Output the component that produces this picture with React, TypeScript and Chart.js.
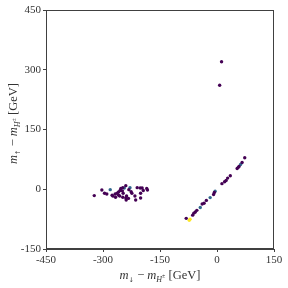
import React, { useEffect, useRef } from "react";
import { Chart, registerables } from "chart.js";

Chart.register(...registerables);

// x: m_down - m_H±, y: m_up - m_H±  (GeV)
const purpleX = [
  -323, -303, -296, -290, -276, -268, -259, -255, -253, -248, -240, -249, -247, -238, -239, -233,
  -226, -224, -216, -214, -210, -201, -201, -197, -194, -183, -259, -263, -232, -274, -267, -256,
  -248, -240, -202, -185,
  12, 7, -81, -64, -57, -53, -39, -34, -28, -7, -9, 13, 20, 24, 28, 35, 53, 58, 56, 66, 73, -61,
];
const purpleY = [
  -16, -2, -10, -12, -15, -12, -15, -3, 2, 4, 9, -4, -10, -17, -27, -23,
  -6, -10, -17, -27, 4, -10, -22, 3, -3, -2, -7, -10, -1, -17, -20, -17,
  -20, -22, 3, 2,
  320, 261, -73, -65, -57, -53, -37, -35, -28, -8, -13, 14, 19, 22, 28, 34, 52, 57, 55, 67, 79, -60,
];
const tealX = [-281, -244, -229, -44, -18, -5, 62];
const tealY = [-1, 3, 4, -46, -21, -5, 62];
const yellowX = [-71, -73];
const yellowY = [-75, -78];

const xTicks = [-450, -300, -150, 0, 150];
const yTicks = [-150, 0, 150, 300, 450];

const FONT = "'Liberation Serif', 'DejaVu Serif', serif";
const SYMFONT = "'DejaVu Sans', sans-serif";
const AXIS = "#404040";
const TEXT = "#333333";

type Part = { t: string; it?: boolean; s: number; dy?: number; sym?: boolean };

function fontOf(p: Part) {
  return `${p.it ? "italic " : ""}${p.s}px ${p.sym ? SYMFONT : FONT}`;
}

function drawParts(ctx: CanvasRenderingContext2D, parts: Part[], cx: number, cy: number, rot: number) {
  ctx.save();
  ctx.translate(cx, cy);
  ctx.rotate(rot);
  let total = 0;
  const widths: number[] = [];
  for (const p of parts) {
    ctx.font = fontOf(p);
    const w = ctx.measureText(p.t).width;
    widths.push(w);
    total += w;
  }
  let x = -total / 2;
  ctx.fillStyle = TEXT;
  ctx.textBaseline = "alphabetic";
  ctx.textAlign = "left";
  parts.forEach((p, i) => {
    ctx.font = fontOf(p);
    ctx.fillText(p.t, x, 4 + (p.dy || 0));
    x += widths[i];
  });
  ctx.restore();
}

const labelsPlugin = {
  id: "mathLabels",
  afterDraw(chart: any) {
    const { ctx, chartArea } = chart;
    const { left, right, top, bottom } = chartArea;
    ctx.save();
    ctx.strokeStyle = AXIS;
    ctx.lineWidth = 1;
    ctx.strokeRect(left + 0.5, top + 0.5, right - left - 1, bottom - top - 1);
    ctx.restore();
    const mk = (arrow: string): Part[] => [
      { t: "m", it: true, s: 12.5 },
      { t: arrow, s: 6.5, dy: 2.5, sym: true },
      { t: " − ", s: 12.5 },
      { t: "m", it: true, s: 12.5 },
      { t: "H", it: true, s: 8, dy: 2.5 },
      { t: "±", s: 6, dy: -1 },
      { t: " [GeV]", s: 12.5 },
    ];
    drawParts(ctx, mk("↓"), (left + right) / 2, 275, 0);
    drawParts(ctx, mk("↑"), 13, (top + bottom) / 2 - 6, -Math.PI / 2);
  },
};

export default function App() {
  const ref = useRef<HTMLCanvasElement>(null);
  useEffect(() => {
    if (!ref.current) return;
    const mkData = (xs: number[], ys: number[]) => xs.map((x, i) => ({ x, y: ys[i] }));
    const chart = new Chart(ref.current, {
      type: "scatter",
      data: {
        datasets: [
          { data: mkData(purpleX, purpleY), backgroundColor: "#440154", borderWidth: 0, pointRadius: 1.7 },
          { data: mkData(tealX, tealY), backgroundColor: "#31688e", borderWidth: 0, pointRadius: 1.7 },
          { data: mkData(yellowX, yellowY), backgroundColor: "#fde725", borderWidth: 0, pointRadius: 1.7 },
        ],
      },
      options: {
        animation: false,
        responsive: false,
        layout: { padding: { top: 10, right: 14, left: 0, bottom: 0 } },
        plugins: { legend: { display: false }, tooltip: { enabled: false } },
        scales: {
          x: {
            type: "linear",
            min: -450,
            max: 150,
            afterBuildTicks: (axis: any) => {
              axis.ticks = xTicks.map((v) => ({ value: v }));
            },
            afterFit: (axis: any) => {
              axis.height = 39;
            },
            grid: { drawOnChartArea: false, drawTicks: true, tickLength: 3, color: AXIS },
            border: { display: true, color: AXIS, width: 1 },
            ticks: { color: TEXT, font: { family: FONT, size: 11 }, padding: 2, maxRotation: 0 },
          },
          y: {
            type: "linear",
            min: -150,
            max: 450,
            afterBuildTicks: (axis: any) => {
              axis.ticks = yTicks.map((v) => ({ value: v }));
            },
            afterFit: (axis: any) => {
              axis.width = 46;
            },
            grid: { drawOnChartArea: false, drawTicks: true, tickLength: 3, color: AXIS },
            border: { display: true, color: AXIS, width: 1 },
            ticks: { color: TEXT, font: { family: FONT, size: 11 }, padding: 2 },
          },
        },
      },
      plugins: [labelsPlugin],
    });
    return () => chart.destroy();
  }, []);
  return (
    <div style={{ position: "fixed", left: 0, top: 0, width: 288, height: 288, background: "#fff" }}>
      <canvas ref={ref} width={288} height={288} style={{ width: 288, height: 288 }} />
    </div>
  );
}
